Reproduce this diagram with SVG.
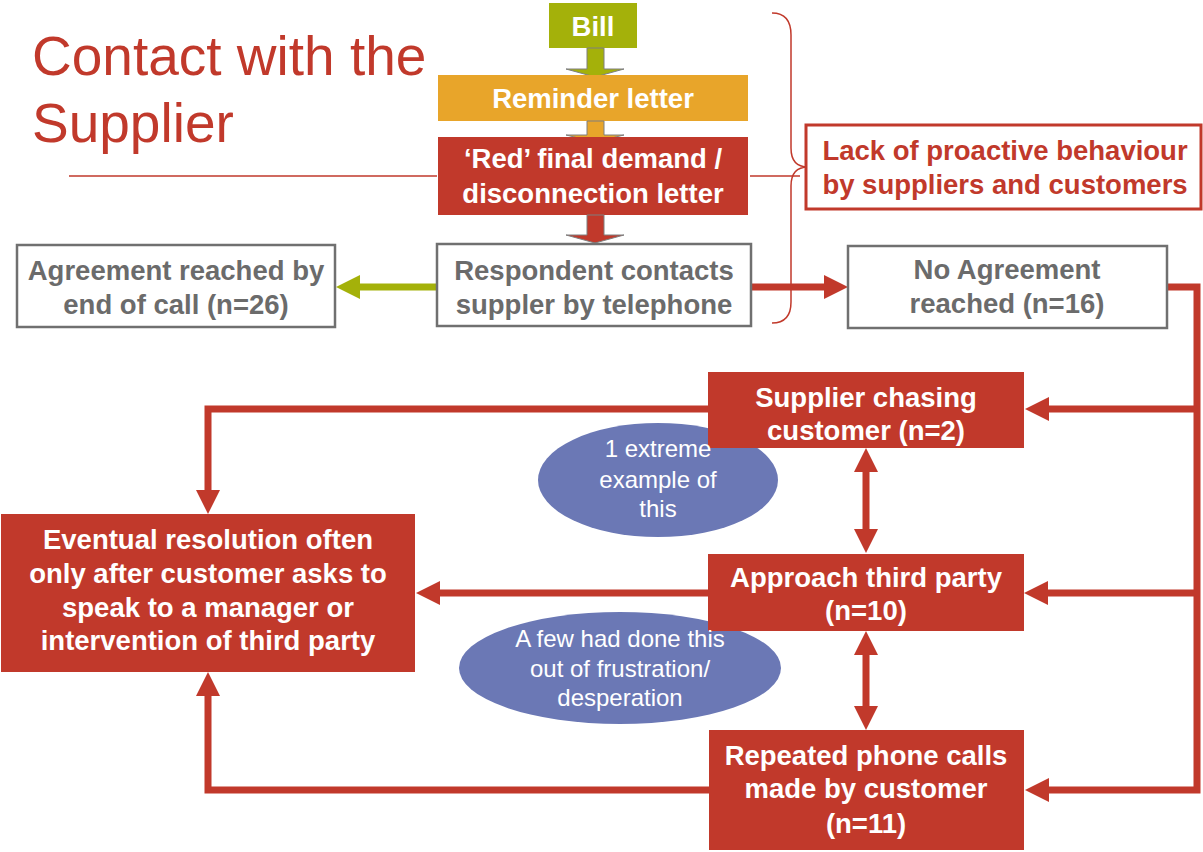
<svg xmlns="http://www.w3.org/2000/svg" width="1203" height="852" viewBox="0 0 1203 852">
<style>
.t{font-family:"Liberation Sans",Arial,sans-serif;text-anchor:middle}
.b{font-weight:bold;font-size:27.5px}
.w{fill:#FFFFFF}
.g{fill:#6B6B6B}
.r{fill:#C1392B}
.e{font-size:24px;fill:#FFFFFF}
.gbox{fill:#FFFFFF;stroke:#707070;stroke-width:2.5}
.con{fill:none;stroke:#C1392B;stroke-width:7}
.thin{fill:none;stroke:#C1392B;stroke-width:1.5}
.blk{stroke:#7F7F7F;stroke-width:1}
</style>
<defs>
<marker id="ar" viewBox="0 -12 24 24" refX="0" refY="0" markerWidth="24" markerHeight="24" markerUnits="userSpaceOnUse" orient="auto-start-reverse"><path d="M0,-12L24,0L0,12z" fill="#C1392B"/></marker>
<marker id="ag" viewBox="0 -12 24 24" refX="0" refY="0" markerWidth="24" markerHeight="24" markerUnits="userSpaceOnUse" orient="auto"><path d="M0,-12L24,0L0,12z" fill="#A4B10A"/></marker>
</defs>

<g id="title">
<text class="t r" x="32" y="75" style="text-anchor:start;font-size:55px">Contact with the</text>
<text class="t r" x="32" y="142" style="text-anchor:start;font-size:55px">Supplier</text>
</g>

<g id="bracket">
<path class="thin" d="M69,176H437"/>
<path class="thin" d="M750,176H800"/>
<path class="thin" d="M772,13Q791,13 791,35V148Q791,167 808,167Q791,167 791,186V302Q791,323 772,323"/>
</g>

<g id="ellipses">
<ellipse cx="658" cy="480" rx="120" ry="57" fill="#6B78B5"/>
<ellipse cx="620" cy="668" rx="161" ry="56" fill="#6B78B5"/>
</g>

<g id="connectors">
<path d="M437,287H360" fill="none" stroke="#A4B10A" stroke-width="7" marker-end="url(#ag)"/>
<path class="con" d="M751,287H824" marker-end="url(#ar)"/>
<path class="con" d="M1167,287H1197V790H1049" marker-end="url(#ar)" stroke-linejoin="miter"/>
<path class="con" d="M1197,409H1049" marker-end="url(#ar)"/>
<path class="con" d="M1197,593H1048" marker-end="url(#ar)"/>
<path class="con" d="M708,409H208V490" marker-end="url(#ar)"/>
<path class="con" d="M708,593H440" marker-end="url(#ar)"/>
<path class="con" d="M709,790H208V696" marker-end="url(#ar)"/>
<path class="con" d="M866,472V529" marker-start="url(#ar)" marker-end="url(#ar)"/>
<path class="con" d="M866,655V706" marker-start="url(#ar)" marker-end="url(#ar)"/>
</g>

<g id="bill">
<rect x="549" y="3" width="88" height="45" fill="#A4B10A"/>
<text class="t b w" x="593" y="36">Bill</text>
</g>
<g id="arrow1"><polygon class="blk" fill="#A4B10A" points="587,48 604,48 604,69 624,69 595,77 566,69 587,69"/></g>

<g id="reminder">
<rect x="438" y="75" width="310" height="46" fill="#E8A52A"/>
<text class="t b w" x="593" y="108">Reminder letter</text>
</g>
<g id="arrow2"><polygon class="blk" fill="#E8A52A" points="587,121 604,121 604,135 624,135 595,142 566,135 587,135"/></g>

<g id="red">
<rect x="438" y="137" width="310" height="78" fill="#C1392B"/>
<text class="t b w" x="593" y="168">‘Red’ final demand /</text>
<text class="t b w" x="593" y="203">disconnection letter</text>
</g>
<g id="arrow3"><polygon class="blk" fill="#C1392B" points="587,215 604,215 604,235 624,235 595,243 566,235 587,235"/></g>

<g id="respondent">
<rect class="gbox" x="437" y="244" width="314" height="82"/>
<text class="t b g" x="594" y="280">Respondent contacts</text>
<text class="t b g" x="594" y="314">suppler by telephone</text>
</g>

<g id="agreement">
<rect class="gbox" x="17" y="245" width="318" height="82"/>
<text class="t b g" x="176" y="280">Agreement reached by</text>
<text class="t b g" x="176" y="314">end of call (n=26)</text>
</g>

<g id="noagreement">
<rect class="gbox" x="848" y="246" width="319" height="82"/>
<text class="t b g" x="1007" y="279">No Agreement</text>
<text class="t b g" x="1007" y="313">reached (n=16)</text>
</g>

<g id="lack">
<rect x="806" y="125" width="395" height="84" fill="#FFFFFF" stroke="#C1392B" stroke-width="3"/>
<text class="t b r" x="1005" y="160">Lack of proactive behaviour</text>
<text class="t b r" x="1005" y="194">by suppliers and customers</text>
</g>

<g id="supplier">
<rect x="708" y="372" width="316" height="76" fill="#C1392B"/>
<text class="t b w" x="866" y="407">Supplier chasing</text>
<text class="t b w" x="866" y="440">customer (n=2)</text>
</g>

<g id="approach">
<rect x="708" y="554" width="316" height="77" fill="#C1392B"/>
<text class="t b w" x="866" y="587">Approach third party</text>
<text class="t b w" x="866" y="620">(n=10)</text>
</g>

<g id="repeated">
<rect x="709" y="730" width="315" height="120" fill="#C1392B"/>
<text class="t b w" x="866" y="765">Repeated phone calls</text>
<text class="t b w" x="866" y="798">made by customer</text>
<text class="t b w" x="866" y="833">(n=11)</text>
</g>

<g id="eventual">
<rect x="1" y="514" width="414" height="158" fill="#C1392B"/>
<text class="t b w" x="208" y="549">Eventual resolution often</text>
<text class="t b w" x="208" y="583">only after customer asks to</text>
<text class="t b w" x="208" y="617">speak to a manager or</text>
<text class="t b w" x="208" y="650">intervention of third party</text>
</g>

<g id="note1">
<text class="t e" x="658" y="457">1 extreme</text>
<text class="t e" x="658" y="488">example of</text>
<text class="t e" x="658" y="517">this</text>
</g>
<g id="note2">
<text class="t e" x="620" y="647">A few had done this</text>
<text class="t e" x="620" y="677">out of frustration/</text>
<text class="t e" x="620" y="706">desperation</text>
</g>
</svg>
